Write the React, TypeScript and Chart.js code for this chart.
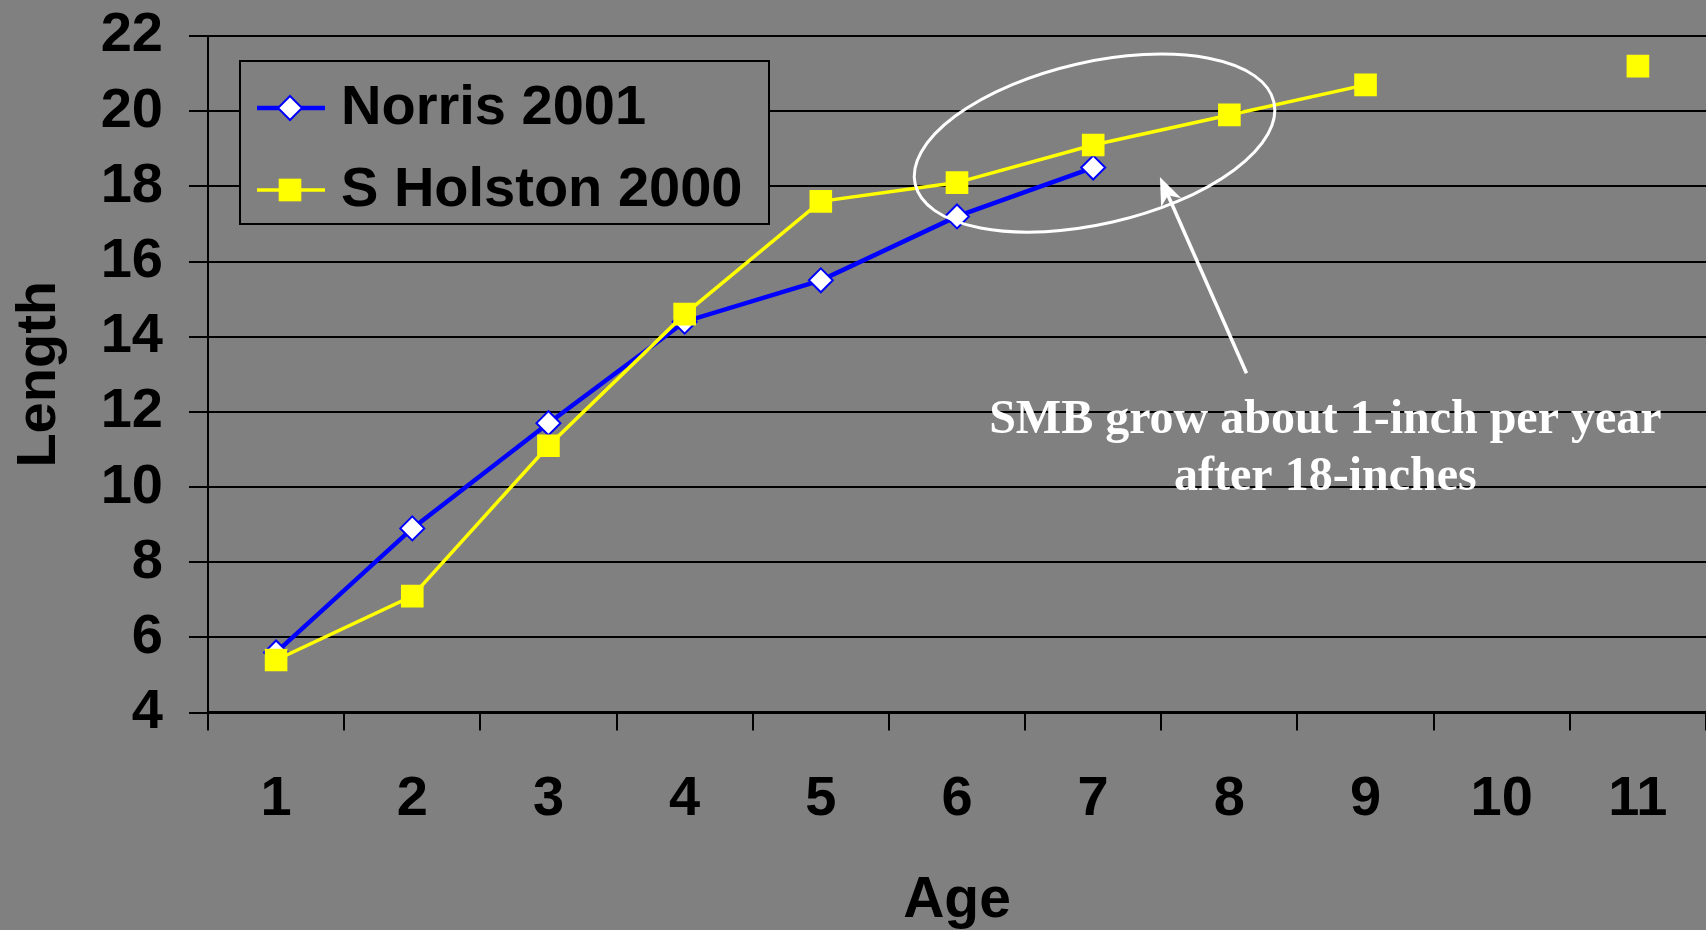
import React, { useEffect, useRef } from 'react';
import { Chart, registerables } from 'chart.js';

Chart.register(...registerables);

// ---- data ----
const ages = ['1', '2', '3', '4', '5', '6', '7', '8', '9', '10', '11'];
const norris2001 = [5.6, 8.9, 11.7, 14.4, 15.5, 17.2, 18.5, null, null, null, null];
const sHolston2000 = [5.4, 7.1, 11.1, 14.6, 17.6, 18.1, 19.1, 19.9, 20.7, null, 21.2];
const seriesNames = ['Norris 2001', 'S Holston 2000'];
const yMin = 4;
const yMax = 22;
const yStep = 2;
const xTitle = 'Age';
const yTitle = 'Length';
const noteLines = ['SMB grow about 1-inch per year', 'after 18-inches'];
// annotation anchors in data units (category index, length)
const ellipseCenter = [6.01, 19.15];
const arrowTail = [7.126, 13.03];
const arrowTip = [6.49, 18.25];
const noteAnchor = [7.705, 11.43, 9.92];

const W = 1706;
const H = 930;
const SANS = "'Liberation Sans', Arial, sans-serif";

const notePlugin = {
  id: 'smbNote',
  afterDatasetsDraw(chart: any) {
    const { ctx } = chart;
    const x = chart.scales.x;
    const y = chart.scales.y;
    ctx.save();
    ctx.strokeStyle = '#ffffff';
    ctx.fillStyle = '#ffffff';
    // ellipse
    ctx.lineWidth = 3;
    ctx.beginPath();
    ctx.ellipse(
      x.getPixelForValue(ellipseCenter[0]),
      y.getPixelForValue(ellipseCenter[1]),
      184, 81, -0.225, 0, Math.PI * 2
    );
    ctx.stroke();
    // arrow
    const tx = x.getPixelForValue(arrowTail[0]);
    const ty = y.getPixelForValue(arrowTail[1]);
    const hx = x.getPixelForValue(arrowTip[0]);
    const hy = y.getPixelForValue(arrowTip[1]);
    const dx = hx - tx;
    const dy = hy - ty;
    const len = Math.hypot(dx, dy);
    const ux = dx / len;
    const uy = dy / len;
    const px = -uy;
    const py = ux;
    const headLen = 28;
    const headHalf = 11;
    ctx.lineWidth = 3.5;
    ctx.beginPath();
    ctx.moveTo(tx, ty);
    ctx.lineTo(hx - ux * 14, hy - uy * 14);
    ctx.stroke();
    const bx = hx - ux * headLen;
    const by = hy - uy * headLen;
    ctx.beginPath();
    ctx.moveTo(hx, hy);
    ctx.lineTo(bx + px * headHalf, by + py * headHalf);
    ctx.lineTo(hx - ux * 20, hy - uy * 20);
    ctx.lineTo(bx - px * headHalf, by - py * headHalf);
    ctx.closePath();
    ctx.fill();
    // text
    ctx.font = "bold 48px 'Liberation Serif', 'Times New Roman', serif";
    ctx.textAlign = 'center';
    ctx.textBaseline = 'alphabetic';
    const nx = x.getPixelForValue(noteAnchor[0]);
    ctx.fillText(noteLines[0], nx, y.getPixelForValue(noteAnchor[1]));
    ctx.fillText(noteLines[1], nx, y.getPixelForValue(noteAnchor[2]));
    ctx.restore();
  },
};

const legendBoxPlugin = {
  id: 'legendBox',
  afterDraw(chart: any) {
    const { ctx, chartArea } = chart;
    const x0 = chartArea.left + 32;
    const y0 = chartArea.top + 25;
    const bw = 529;
    const bh = 163;
    ctx.save();
    ctx.fillStyle = '#808080';
    ctx.fillRect(x0, y0, bw, bh);
    ctx.strokeStyle = '#000000';
    ctx.lineWidth = 2;
    ctx.strokeRect(x0, y0, bw, bh);
    const rows = [y0 + 47, y0 + 129];
    chart.data.datasets.forEach((ds: any, i: number) => {
      const ry = rows[i];
      ctx.strokeStyle = ds.borderColor;
      ctx.lineWidth = ds.borderWidth;
      ctx.beginPath();
      ctx.moveTo(x0 + 17, ry);
      ctx.lineTo(x0 + 85, ry);
      ctx.stroke();
      const mx = x0 + 50;
      if (ds.pointStyle === 'rectRot') {
        const r = ds.pointRadius;
        ctx.beginPath();
        ctx.moveTo(mx, ry - r);
        ctx.lineTo(mx + r, ry);
        ctx.lineTo(mx, ry + r);
        ctx.lineTo(mx - r, ry);
        ctx.closePath();
        ctx.fillStyle = ds.pointBackgroundColor;
        ctx.fill();
        ctx.strokeStyle = ds.pointBorderColor;
        ctx.lineWidth = ds.pointBorderWidth;
        ctx.stroke();
      } else {
        const s = ds.pointRadius * Math.SQRT1_2;
        ctx.fillStyle = ds.pointBackgroundColor;
        ctx.fillRect(mx - s, ry - s, 2 * s, 2 * s);
      }
      ctx.fillStyle = '#000000';
      ctx.font = `bold 56px ${SANS}`;
      ctx.textAlign = 'left';
      ctx.textBaseline = 'middle';
      ctx.fillText(ds.label, x0 + 101, ry + 1);
    });
    ctx.restore();
  },
};

const clearPadding = (scale: any) => {
  scale.paddingTop = 0;
  scale.paddingBottom = 0;
  scale.paddingLeft = 0;
  scale.paddingRight = 0;
};

export default function App() {
  const ref = useRef<HTMLCanvasElement | null>(null);

  useEffect(() => {
    if (!ref.current) return;
    Chart.defaults.font.family = SANS;
    const chart = new Chart(ref.current, {
      type: 'line',
      data: {
        labels: ages,
        datasets: [
          {
            label: seriesNames[0],
            data: norris2001,
            borderColor: '#0000ff',
            backgroundColor: '#0000ff',
            borderWidth: 4.5,
            pointStyle: 'rectRot',
            pointRadius: 12,
            pointBackgroundColor: '#ffffff',
            pointBorderColor: '#0000ff',
            pointBorderWidth: 2,
            spanGaps: false,
            tension: 0,
            order: 1,
          },
          {
            label: seriesNames[1],
            data: sHolston2000,
            borderColor: '#ffff00',
            backgroundColor: '#ffff00',
            borderWidth: 3.5,
            pointStyle: 'rect',
            pointRadius: 16,
            pointBackgroundColor: '#ffff00',
            pointBorderColor: '#ffff00',
            pointBorderWidth: 0,
            spanGaps: false,
            tension: 0,
            order: 0,
          },
        ],
      },
      options: {
        responsive: false,
        devicePixelRatio: 1,
        animation: false,
        events: [],
        layout: { autoPadding: false, padding: { top: 36, left: 0, right: 0, bottom: 0 } },
        plugins: {
          legend: { display: false },
          tooltip: { enabled: false },
          title: { display: false },
        },
        scales: {
          x: {
            type: 'category',
            offset: true,
            grid: {
              display: true,
              drawOnChartArea: false,
              drawTicks: true,
              tickLength: 18,
              offset: true,
              color: '#000000',
              lineWidth: 2,
            },
            border: { display: true, color: '#000000', width: 3 },
            ticks: {
              color: '#000000',
              font: { size: 56, weight: 'bold' },
              padding: 35,
              maxRotation: 0,
              autoSkip: false,
            },
            title: {
              display: true,
              text: xTitle,
              color: '#000000',
              font: { size: 57, weight: 'bold', lineHeight: 1 },
              padding: { top: 0, bottom: 0 },
            },
            afterFit: (scale: any) => {
              scale.height = 217.4;
              clearPadding(scale);
            },
          },
          y: {
            type: 'linear',
            min: yMin,
            max: yMax,
            grid: {
              display: true,
              drawOnChartArea: true,
              drawTicks: true,
              tickLength: 19,
              color: '#000000',
              lineWidth: 2,
            },
            border: { display: true, color: '#000000', width: 2 },
            ticks: {
              stepSize: yStep,
              color: '#000000',
              font: { size: 56, weight: 'bold' },
              padding: 26,
            },
            title: {
              display: true,
              text: yTitle,
              color: '#000000',
              font: { size: 56, weight: 'bold', lineHeight: 1 },
              padding: { top: 12, bottom: 0 },
            },
            afterFit: (scale: any) => {
              scale.width = 208;
              clearPadding(scale);
            },
          },
        },
      },
      plugins: [notePlugin, legendBoxPlugin],
    } as any);
    return () => chart.destroy();
  }, []);

  return (
    <div
      style={{
        position: 'fixed',
        left: 0,
        top: 0,
        width: W,
        height: H,
        background: '#808080',
        overflow: 'hidden',
      }}
    >
      <canvas ref={ref} width={W} height={H} style={{ display: 'block', width: W, height: H }} />
    </div>
  );
}
